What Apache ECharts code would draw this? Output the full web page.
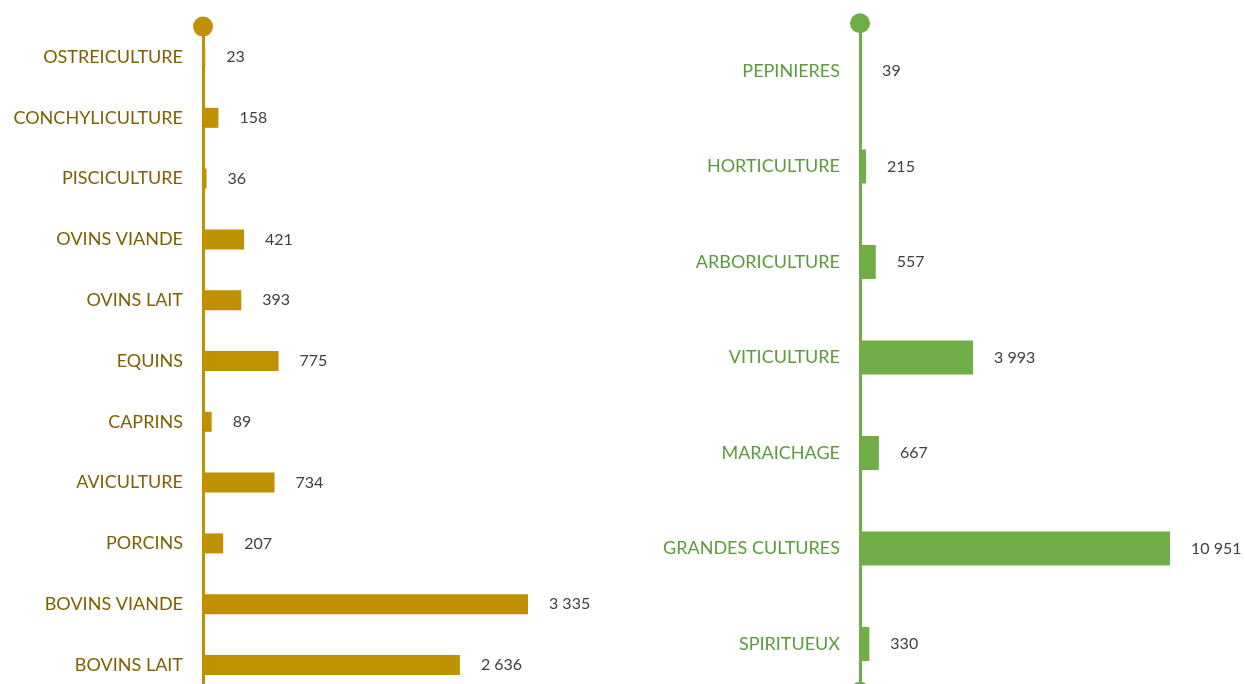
<!DOCTYPE html>
<html>
<head>
<meta charset="utf-8">
<script src="https://cdn.jsdelivr.net/npm/echarts@6/dist/echarts.min.js"></script>
<style>
  html, body { margin: 0; padding: 0; background: #fff; }
  #chart { width: 1245px; height: 684px; }
</style>
</head>
<body>
<div id="chart"></div>
<script>
// elevage (left) and cultures (right), top to bottom
var elevageCats = ["OSTREICULTURE", "CONCHYLICULTURE", "PISCICULTURE", "OVINS VIANDE", "OVINS LAIT",
  "EQUINS", "CAPRINS", "AVICULTURE", "PORCINS", "BOVINS VIANDE", "BOVINS LAIT"];
var elevageVals = [23, 158, 36, 421, 393, 775, 89, 734, 207, 3335, 2636];

var culturesCats = ["PEPINIERES", "HORTICULTURE", "ARBORICULTURE", "VITICULTURE", "MARAICHAGE",
  "GRANDES CULTURES", "SPIRITUEUX"];
var culturesVals = [39, 215, 557, 3993, 667, 10951, 330];

var gold = "#BF9000", goldText = "#7F6000";
var green = "#70AD47", greenText = "#5B9B3A";
var font = "Lato";

function fmt(p) {
  return String(p.value).replace(/\B(?=(\d{3})+(?!\d))/g, " ");
}

function catAxis(idx, cats, lineColor, textColor) {
  return {
    type: "category",
    gridIndex: idx,
    data: cats,
    inverse: true,
    axisLine: {
      show: true,
      symbol: ["circle", "circle"],
      symbolSize: [20, 20],
      lineStyle: { color: lineColor, width: 3 }
    },
    axisTick: { show: false },
    axisLabel: { margin: 20, color: textColor, fontSize: 18, fontFamily: font }
  };
}

function valAxis(idx, max) {
  return {
    type: "value", gridIndex: idx, min: 0, max: max,
    show: false, splitLine: { show: false }
  };
}

function barSeries(idx, vals, color, width) {
  return {
    type: "bar",
    xAxisIndex: idx,
    yAxisIndex: idx,
    data: vals,
    barWidth: width,
    itemStyle: { color: color },
    label: {
      show: true, position: "right", distance: 21,
      color: "#404040", fontSize: 16, fontFamily: font,
      formatter: fmt
    },
    z: 1
  };
}

var chart = echarts.init(document.getElementById("chart"));
chart.setOption({
  animation: false,
  grid: [
    { left: 203, top: 26.6, width: 389.8, height: 668.8, outerBoundsMode: "none", containLabel: false },
    { left: 860, top: 23.25, width: 339.7, height: 668.5, outerBoundsMode: "none", containLabel: false }
  ],
  xAxis: [valAxis(0, 4000), valAxis(1, 12000)],
  yAxis: [
    catAxis(0, elevageCats, gold, goldText),
    catAxis(1, culturesCats, green, greenText)
  ],
  series: [
    barSeries(0, elevageVals, gold, 20),
    barSeries(1, culturesVals, green, 34)
  ]
});
</script>
</body>
</html>
